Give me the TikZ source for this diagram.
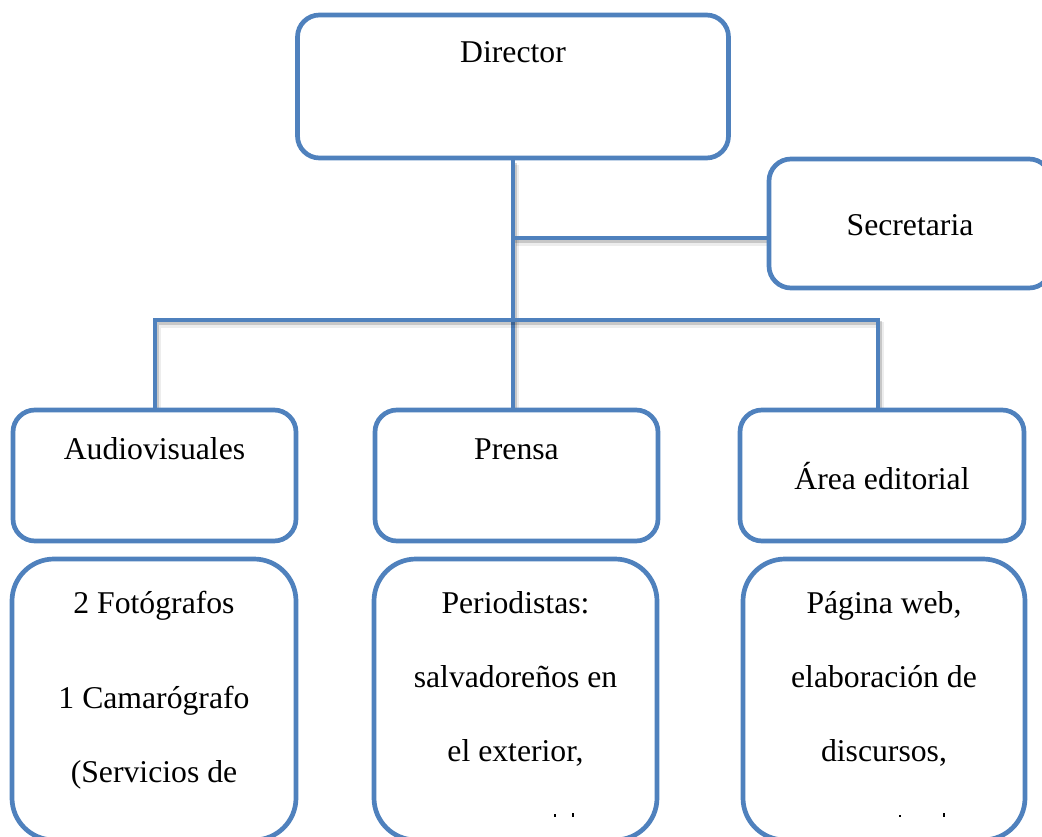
\documentclass[tikz,border=0pt]{standalone}
\usepackage{fontspec}
\setmainfont{Liberation Serif}
\usetikzlibrary{backgrounds}
\definecolor{obl}{HTML}{4F81BD}
\tikzset{
  box/.style={draw=obl, line width=4.7pt, rectangle, rounded corners=22pt, inner sep=0pt, fill=white},
  bigbox/.style={box, rounded corners=42pt, minimum height=281pt},
  lbl/.style={inner sep=0pt, anchor=base, text=black, font=\fontsize{31.7}{74}\selectfont},
  conn/.style={draw=obl, line width=4.7pt, line join=miter,
    preaction={draw=black, opacity=0.07, line width=6pt, transform canvas={shift={(3pt,-5pt)}}},
    preaction={draw=black, opacity=0.16, line width=4.7pt, transform canvas={shift={(2pt,-3pt)}}}},
  mk/.style={fill=black}
}
\begin{document}
\begin{tikzpicture}[x=1pt,y=-1pt]
\useasboundingbox (0,0) rectangle (1042,837);

% boxes
\node[box, minimum width=431pt, minimum height=143pt] (dir) at (513,86.5) {};
\node[box, minimum width=282pt, minimum height=129pt] (sec) at (910,223.5) {};
\node[box, minimum width=283pt, minimum height=131pt] (aud) at (154.5,475.5) {};
\node[box, minimum width=283pt, minimum height=131pt] (pre) at (516.5,475.5) {};
\node[box, minimum width=284pt, minimum height=131pt] (are) at (882,475.5) {};
\node[bigbox, minimum width=284pt] (baud) at (154,699.5) {};
\node[bigbox, minimum width=283pt] (bpre) at (515.5,699.5) {};
\node[bigbox, minimum width=282pt] (bare) at (884,699.5) {};

% labels
\node[lbl] (tdir) at (513,63) {Director};
\node[lbl] (tsec) at (910,236) {Secretaria};
\node[lbl] (taud) at (154.5,459) {Audiovisuales};
\node[lbl] (tpre) at (516.5,459) {Prensa};
\node[lbl] (tare) at (882,489) {Área editorial};
\node[lbl] (tbaud) at (154,613) {\begin{tabular}[t]{@{}c@{}}2 Fotógrafos\\[21pt]1 Camarógrafo\\(Servicios de\end{tabular}};
\node[lbl] (tbpre) at (515.5,613) {\begin{tabular}[t]{@{}c@{}}Periodistas:\\salvadoreños en\\el exterior,\end{tabular}};
\node[lbl] (tbare) at (884,613) {\begin{tabular}[t]{@{}c@{}}Página web,\\elaboración de\\discursos,\end{tabular}};

% clipped tops of a further text line
\fill[mk] (554.2,814) rectangle (555.8,817);
\fill[mk] (572.2,813) rectangle (573.8,817);
\fill[mk] (899.2,814.5) rectangle (900.8,817);
\fill[mk] (943.2,813) rectangle (944.8,817);

% connectors
\coordinate (jsec) at (513,238);
\coordinate (bl) at (155,320);
\coordinate (br) at (878,320);
\begin{scope}[on background layer]
\draw[conn] (dir.south) -- (dir.south |- pre.north);
\draw[conn] (jsec) -- (jsec -| sec.west);
\draw[conn] (bl |- aud.north) -- (bl) -- (br) -- (br |- are.north);
\end{scope}
\end{tikzpicture}
\end{document}
